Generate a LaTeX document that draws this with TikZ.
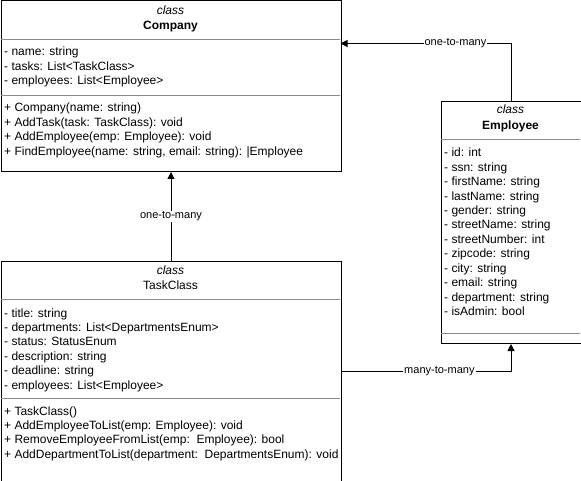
\documentclass[tikz,border=0pt]{standalone}
\usepackage{fontspec}
\setmainfont{Liberation Sans}
\usetikzlibrary{arrows.meta}
\begin{document}
\begin{tikzpicture}[x=1pt,y=-1pt,
  box/.style={draw=black,line width=1pt,anchor=north west,inner sep=0pt,fill=white},
  sep/.style={draw=black!45,line width=1pt},
  ttl/.style={inner sep=0pt,anchor=base,font=\fontsize{12}{14.4}\selectfont},
  attr/.style={inner sep=0pt,anchor=base west,font=\fontsize{12}{14.4}\selectfont},
  lbl/.style={fill=white,inner sep=1pt,font=\fontsize{11}{13}\selectfont},
  conn/.style={draw=black,line width=1pt,-{Triangle[length=7pt,width=7pt]}}]
\useasboundingbox (0,0) rectangle (581,481);
% Company
\node[box,minimum width=340pt,minimum height=170.5pt] (company) at (0.5,0.5) {};
\node[ttl] (ct1) at (170.5,15) {\itshape class};
\node[ttl] (ct2) at (170.5,29.4) {\bfseries Company};
\draw[sep] (1,39.5) -- (340,39.5);
\draw[sep] (1,95.5) -- (340,95.5);
\foreach [count=\i] \t in {- name: string,- tasks: List<TaskClass>,- employees: List<Employee>}
  \node[attr,name=ca\i] at (4,{56+14.4*(\i-1)}) {\t};
\foreach [count=\i] \t in {+ Company(name: string),+ AddTask(task: TaskClass): void,+ AddEmployee(emp: Employee): void,{+ FindEmployee(name: string, email: string): |Employee}}
  \node[attr,name=cm\i] at (4,{112+14.4*(\i-1)}) {\t};
% Employee
\node[box,minimum width=140pt,minimum height=242pt] (emp) at (440.5,101) {};
\node[ttl] (et1) at (510.5,114) {\itshape class};
\node[ttl] (et2) at (510.5,129.4) {\bfseries Employee};
\draw[sep] (441,139.5) -- (580,139.5);
\draw[sep] (441,333.5) -- (580,333.5);
\foreach [count=\i] \t in {- id: int,- ssn: string,- firstName: string,- lastName: string,- gender: string,- streetName: string,- streetNumber: int,- zipcode: string,- city: string,- email: string,- department: string,- isAdmin: bool}
  \node[attr,name=ea\i] at (444,{157+14.4*(\i-1)}) {\t};
% TaskClass
\node[box,minimum width=340pt,minimum height=219.5pt] (task) at (0.5,261) {};
\node[ttl] (tt1) at (170.5,274) {\itshape class};
\node[ttl] (tt2) at (170.5,289.4) {TaskClass};
\draw[sep] (1,299.5) -- (340,299.5);
\draw[sep] (1,398.5) -- (340,398.5);
\foreach [count=\i] \t in {- title: string,- departments: List<DepartmentsEnum>,- status: StatusEnum,- description: string,- deadline: string,- employees: List<Employee>}
  \node[attr,name=ta\i] at (4,{317+14.4*(\i-1)}) {\t};
\foreach [count=\i] \t in {+ TaskClass(),+ AddEmployeeToList(emp: Employee): void,+ RemoveEmployeeFromList(emp:\ \ Employee): bool,+ AddDepartmentToList(department:\ \ DepartmentsEnum): void}
  \node[attr,name=tm\i] at (4,{415+14.4*(\i-1)}) {\t};
% connectors
\coordinate (c1) at (340.5,43.5);
\coordinate (t1) at (340.5,371);
\draw[conn] (task.north) -- node[lbl,pos=0.5] {one-to-many} (company.south);
\draw[conn] (emp.north) |- node[lbl,pos=0.663] {one-to-many} (c1);
\draw[conn] (t1) -| node[lbl,pos=0.29] {many-to-many} (emp.south);
\end{tikzpicture}
\end{document}
